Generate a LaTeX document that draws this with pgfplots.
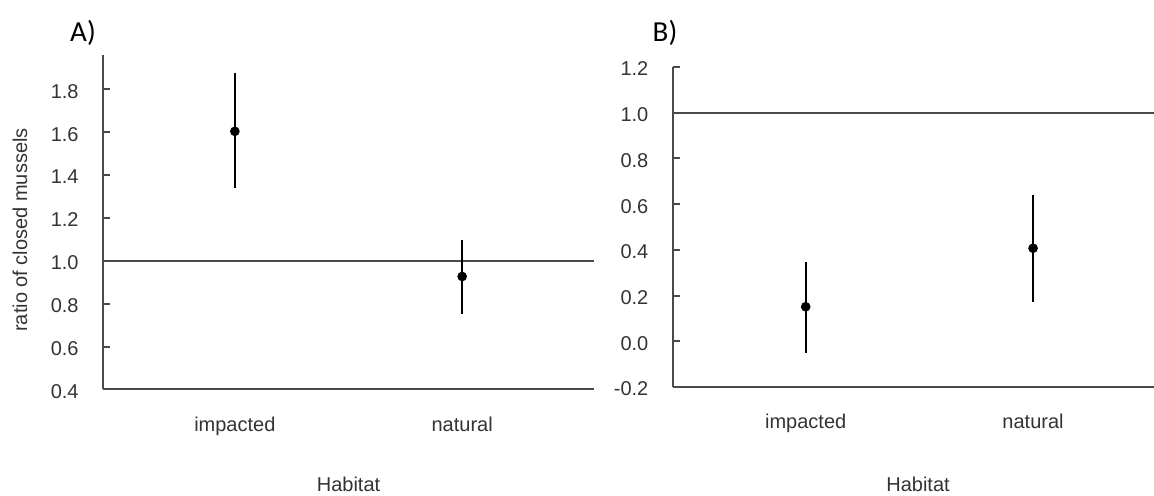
\documentclass[border=0pt]{standalone}
\usepackage{fontspec}
\setmainfont{Liberation Sans}
\newfontfamily\calib{Carlito}
\usepackage{pgfplots}
\usepackage{pgfplotstable}
\pgfplotsset{compat=1.18}
\definecolor{axgray}{HTML}{4A4A4A}
\definecolor{txtgray}{HTML}{333333}

\pgfplotstableread{
x y ep em
1 1.604 0.270 0.262
2 0.927 0.172 0.177
}\dataA
\pgfplotstableread{
x y ep em
1 0.151 0.197 0.203
2 0.407 0.233 0.234
}\dataB

\pgfplotsset{
  panel/.style={
    scale only axis,
    anchor=south west,
    axis x line=bottom,
    axis y line=left,
    axis line style={-, color=axgray, line width=1bp},
    tick align=inside,
    major tick length=3.5bp,
    ytick style={color=axgray, line width=1bp},
    xtick style={draw=none},
    xtick={1,2},
    xticklabels={impacted,natural},
    tick label style={font=\fontsize{10bp}{12bp}\selectfont, text=txtgray},
    xticklabel style={anchor=base, yshift=-21bp},
    yticklabel style={anchor=east, inner sep=0pt, xshift=-12bp, yshift=-1bp},
    /pgf/number format/.cd, fixed, fixed zerofill, precision=1, assume math mode=true,
  },
  pts/.style={
    only marks, mark=*, mark size=2.2bp, black, mark options={fill=black},
    error bars/.cd, y dir=both, y explicit, error mark=none,
    error bar style={line width=0.9bp, black},
  },
}

\begin{document}
\begin{tikzpicture}
\useasboundingbox (0,0) rectangle (577bp,248bp);

\begin{axis}[panel,
  at={(51.5bp,53.25bp)}, width=245.5bp, height=167.25bp,
  xmin=0.42, xmax=2.58, ymin=0.4, ymax=1.96,
  ytick={0.4,0.6,0.8,1.0,1.2,1.4,1.6,1.8},
]
\addplot[axgray, line width=1bp, no marks] coordinates {(0.42,1) (2.58,1)};
\addplot[pts] table[x=x, y=y, y error plus=ep, y error minus=em] {\dataA};
\end{axis}

\begin{axis}[panel,
  at={(336.35bp,54.5bp)}, width=240.65bp, height=160bp,
  xmin=0.415, xmax=2.532, ymin=-0.2, ymax=1.2,
  ytick={-0.2,0,0.2,0.4,0.6,0.8,1.0,1.2},
]
\addplot[axgray, line width=1bp, no marks] coordinates {(0.415,1) (2.532,1)};
\addplot[pts] table[x=x, y=y, y error plus=ep, y error minus=em] {\dataB};
\end{axis}

\node[font=\calib\fontsize{14.5bp}{17bp}\selectfont, text=black] at (41.5bp,231.5bp) {A)};
\node[font=\calib\fontsize{14.5bp}{17bp}\selectfont, text=black] at (332.5bp,231.5bp) {B)};
\node[rotate=90, font=\fontsize{10bp}{12bp}\selectfont, text=txtgray] at (10bp,133bp) {ratio of closed mussels};
\node[anchor=base, font=\fontsize{10bp}{12bp}\selectfont, text=txtgray] at (174.25bp,2.5bp) {Habitat};
\node[anchor=base, font=\fontsize{10bp}{12bp}\selectfont, text=txtgray] at (459bp,2.5bp) {Habitat};
\end{tikzpicture}
\end{document}
